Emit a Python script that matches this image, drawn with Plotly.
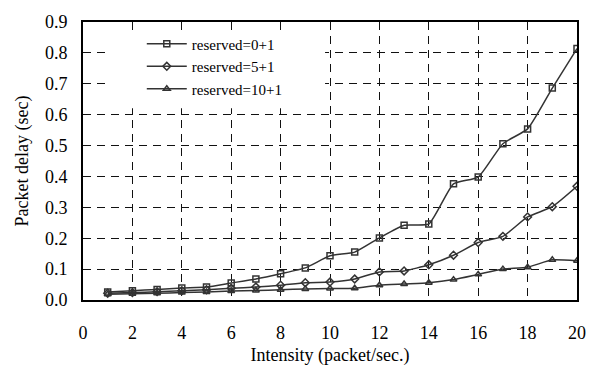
import plotly.graph_objects as go

intensity = list(range(1, 21))
res_0_1 = [0.026, 0.030, 0.034, 0.039, 0.042, 0.055, 0.068, 0.085, 0.104, 0.143,
           0.155, 0.201, 0.242, 0.246, 0.376, 0.398, 0.506, 0.554, 0.686, 0.814]
res_5_1 = [0.022, 0.024, 0.027, 0.030, 0.033, 0.038, 0.042, 0.048, 0.056, 0.058,
           0.068, 0.091, 0.094, 0.114, 0.145, 0.186, 0.206, 0.269, 0.302, 0.368]
res_10_1 = [0.019, 0.020, 0.022, 0.024, 0.026, 0.029, 0.031, 0.033, 0.036, 0.037,
            0.038, 0.048, 0.052, 0.056, 0.066, 0.083, 0.100, 0.106, 0.130, 0.127]
names = ["reserved=0+1", "reserved=5+1", "reserved=10+1"]
symbols = ["square-open", "diamond-open", "triangle-up-open"]

FONT = "Liberation Serif, Times New Roman, serif"
fig = go.Figure()
for name, ys, sym in zip(names, [res_0_1, res_5_1, res_10_1], symbols):
    fig.add_trace(go.Scatter(
        x=intensity, y=ys, name=name, mode="lines+markers",
        line=dict(color="#333333", width=1.5, shape="spline", smoothing=0.5),
        marker=dict(symbol=sym, size=6, color="#333333", line=dict(width=1.5, color="#333333")),
    ))

# white panel behind the legend that hides the grid (like the reference)
fig.add_shape(type="rect", xref="x domain", yref="y domain",
              x0=0.05, x1=0.49, y0=0.69, y1=0.965,
              fillcolor="white", line=dict(width=0), layer="above")

fig.update_layout(
    width=598, height=374,
    margin=dict(l=83, r=20, t=17, b=74),
    paper_bgcolor="white", plot_bgcolor="white",
    font=dict(family=FONT, color="black", size=18),
    showlegend=True,
    legend=dict(x=0.119, y=0.98, xanchor="left", yanchor="top",
                bgcolor="rgba(0,0,0,0)", borderwidth=0,
                font=dict(family=FONT, size=15, color="black"),
                tracegroupgap=0, itemwidth=40),
    xaxis=dict(range=[0, 20], tickvals=list(range(0, 21, 2)),
               showline=True, linecolor="black", linewidth=2, mirror=True,
               showgrid=True, gridcolor="#111111", gridwidth=1, griddash="8px,6px",
               zeroline=False, ticks="", ticklabelstandoff=15,
               tickfont=dict(family=FONT, size=18),
               title=dict(text="Intensity (packet/sec.)", font=dict(family=FONT, size=18), standoff=7)),
    yaxis=dict(range=[0, 0.9], tickvals=[i / 10 for i in range(10)], tickformat=".1f",
               showline=True, linecolor="black", linewidth=2, mirror=True,
               showgrid=True, gridcolor="#111111", gridwidth=1, griddash="8px,6px",
               zeroline=False, ticks="", ticklabelstandoff=10,
               tickfont=dict(family=FONT, size=18),
               title=dict(text="Packet delay (sec)", font=dict(family=FONT, size=18), standoff=12)),
)
fig.write_html("out.html")
